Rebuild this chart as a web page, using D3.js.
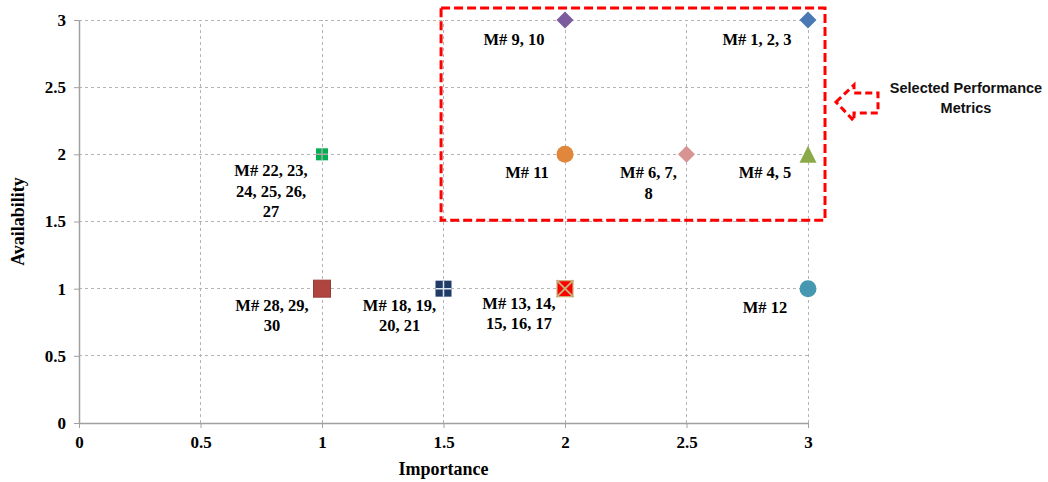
<!DOCTYPE html>
<html>
<head>
<meta charset="utf-8">
<script src="https://cdn.jsdelivr.net/npm/d3@7"></script>
<style>
  html, body { margin: 0; padding: 0; background: #fff; }
  svg { display: block; }
</style>
</head>
<body>
<svg id="chart" width="1048" height="482"></svg>
<script>
// ---- data ----
const metricGroups = ["M# 1, 2, 3", "M# 9, 10", "M# 11", "M# 6, 7, 8", "M# 4, 5",
                      "M# 22, 23, 24, 25, 26, 27", "M# 28, 29, 30", "M# 18, 19, 20, 21",
                      "M# 13, 14, 15, 16, 17", "M# 12"];
const importance   = [3, 2, 2, 2.5, 3, 1, 1, 1.5, 2, 3];
const availability = [3, 3, 2, 2, 2, 2, 1, 1, 1, 1];
const labelLines = [["M# 1, 2, 3"], ["M# 9, 10"], ["M# 11"], ["M# 6, 7,", "8"], ["M# 4, 5"],
                    ["M# 22, 23,", "24, 25, 26,", "27"], ["M# 28, 29,", "30"],
                    ["M# 18, 19,", "20, 21"], ["M# 13, 14,", "15, 16, 17"], ["M# 12"]];
const xTicks = [0, 0.5, 1, 1.5, 2, 2.5, 3];
const yTicks = [0, 0.5, 1, 1.5, 2, 2.5, 3];
const xTitle = "Importance";
const yTitle = "Availability";
const noteLines = ["Selected Performance", "Metrics"];
// selected region (data units)
const selX = [1.49, 3.07];
const selY = [1.51, 3.09];

// ---- styles / layout ----
const markerStyle = [
  {shape: "diamond", fill: "#4a78b4", size: 17},
  {shape: "diamond", fill: "#7b5c9e", size: 17},
  {shape: "circle",  fill: "#e0873c", size: 17},
  {shape: "diamond", fill: "#d79492", size: 17},
  {shape: "triangle",fill: "#8aaa4a", size: 17},
  {shape: "plussq",  fill: "#00b050", size: 12, cross: "#a8a8a8"},
  {shape: "square",  fill: "#b0443f", size: 17, stroke: "#9a3a36"},
  {shape: "plussq",  fill: "#1f3b66", size: 16, cross: "#dfe6f0"},
  {shape: "xsq",     fill: "#ff0000", size: 17, cross: "#c8b27a"},
  {shape: "circle",  fill: "#4598b0", size: 17}
];
const labelDx = [-51, -51, -38, -38, -43, -51, -50, -44, -46, -43];
const labelDy = [19, 19, 18, 18, 18, 16, 16, 16, 14, 18];
const lineH = 20.5;

const svg = d3.select("#chart");
const x = d3.scaleLinear().domain([0, 3]).range([79, 808]);
const y = d3.scaleLinear().domain([0, 3]).range([423, 20]);

// grid
const grid = svg.append("g");
grid.selectAll("line.v").data(xTicks.filter(d => d > 0)).join("line")
  .attr("x1", d => x(d)).attr("x2", d => x(d))
  .attr("y1", y(0)).attr("y2", y(3))
  .attr("stroke", "#b4b4b4").attr("stroke-width", 1).attr("stroke-dasharray", "3,3")
  .attr("shape-rendering", "crispEdges");
grid.selectAll("line.h").data(yTicks.filter(d => d > 0)).join("line")
  .attr("x1", x(0)).attr("x2", x(3))
  .attr("y1", d => y(d)).attr("y2", d => y(d))
  .attr("stroke", "#b4b4b4").attr("stroke-width", 1).attr("stroke-dasharray", "3,3")
  .attr("shape-rendering", "crispEdges");

// axes
const fontSerif = "'Liberation Serif', 'Times New Roman', serif";
const xAxis = d3.axisBottom(x).tickValues(xTicks).tickFormat(d3.format("")).tickSizeInner(5).tickSizeOuter(0).tickPadding(8);
const yAxis = d3.axisLeft(y).tickValues(yTicks).tickFormat(d3.format("")).tickSizeInner(5).tickSizeOuter(0).tickPadding(8);
const gx = svg.append("g").attr("transform", `translate(0,${y(0)})`).call(xAxis);
const gy = svg.append("g").attr("transform", `translate(${x(0)},0)`).call(yAxis);
[gx, gy].forEach(g => {
  g.select(".domain").attr("stroke", "#a0a0a0").attr("stroke-width", 1.5);
  g.selectAll(".tick line").attr("stroke", "#a0a0a0");
  g.selectAll(".tick text").attr("font-family", fontSerif).attr("font-weight", "bold")
    .attr("font-size", 17).attr("fill", "#000");
});

// axis titles
svg.append("text").attr("x", (x(0) + x(3)) / 2 + 0).attr("y", 475)
  .attr("text-anchor", "middle").attr("font-family", fontSerif).attr("font-weight", "bold")
  .attr("font-size", 18).text(xTitle);
svg.append("text").attr("transform", `translate(24,${(y(0) + y(3)) / 2}) rotate(-90)`)
  .attr("text-anchor", "middle").attr("font-family", fontSerif).attr("font-weight", "bold")
  .attr("font-size", 18).text(yTitle);

// selected box
svg.append("rect")
  .attr("x", x(selX[0])).attr("y", y(selY[1]))
  .attr("width", x(selX[1]) - x(selX[0])).attr("height", y(selY[0]) - y(selY[1]))
  .attr("fill", "none").attr("stroke", "#ff0000").attr("stroke-width", 3)
  .attr("stroke-dasharray", "9,4");

// arrow
const ax = x(selX[1]) + 11, ay = 102;
const arrowPts = [[ax, ay], [ax + 18, ay - 17], [ax + 18, ay - 9], [ax + 42, ay - 9],
                  [ax + 42, ay + 11], [ax + 18, ay + 11], [ax + 18, ay + 19]];
svg.append("path").attr("d", d3.line()(arrowPts) + "Z")
  .attr("fill", "none").attr("stroke", "#ff0000").attr("stroke-width", 3)
  .attr("stroke-dasharray", "7,4").attr("stroke-linejoin", "miter");
svg.append("text").attr("x", 966).attr("y", 93).attr("text-anchor", "middle")
  .attr("font-family", "'Liberation Sans', Arial, sans-serif").attr("font-weight", "bold")
  .attr("font-size", 14.5).attr("fill", "#111")
  .selectAll("tspan").data(noteLines).join("tspan")
  .attr("x", 966).attr("dy", (d, i) => i === 0 ? 0 : 20).text(d => d);

// markers
const idx = d3.range(metricGroups.length);
const mk = svg.append("g").selectAll("g").data(idx).join("g")
  .attr("transform", i => `translate(${x(importance[i])},${y(availability[i])})`);
mk.each(function(i) {
  const g = d3.select(this);
  const s = markerStyle[i], h = s.size / 2;
  if (s.shape === "diamond") {
    g.append("path").attr("d", `M0,${-h}L${h},0L0,${h}L${-h},0Z`).attr("fill", s.fill);
  } else if (s.shape === "circle") {
    g.append("circle").attr("r", h).attr("fill", s.fill);
  } else if (s.shape === "triangle") {
    g.append("path").attr("d", `M0,${-h}L${h},${h}L${-h},${h}Z`).attr("fill", s.fill);
  } else if (s.shape === "square") {
    g.append("rect").attr("x", -h).attr("y", -h).attr("width", s.size).attr("height", s.size)
      .attr("fill", s.fill).attr("stroke", s.stroke).attr("stroke-width", 1);
  } else if (s.shape === "plussq") {
    g.append("rect").attr("x", -h).attr("y", -h).attr("width", s.size).attr("height", s.size).attr("fill", s.fill);
    g.append("path").attr("d", `M${-h},0H${h}M0,${-h}V${h}`).attr("stroke", s.cross).attr("stroke-width", 1.5);
  } else if (s.shape === "xsq") {
    g.append("rect").attr("x", -h + 0.5).attr("y", -h + 0.5).attr("width", s.size - 1).attr("height", s.size - 1)
      .attr("fill", s.fill).attr("stroke", s.cross).attr("stroke-width", 1.2);
    g.append("path").attr("d", `M${-h},${-h}L${h},${h}M${h},${-h}L${-h},${h}`).attr("stroke", s.cross).attr("stroke-width", 2);
  }
});

// labels
svg.append("g").selectAll("text").data(idx).join("text")
  .attr("text-anchor", "middle").attr("font-family", fontSerif).attr("font-weight", "bold")
  .attr("font-size", 16.5).attr("fill", "#000")
  .attr("transform", i => `translate(${x(importance[i]) + labelDx[i]},${y(availability[i]) + labelDy[i] + 6})`)
  .each(function(i) {
    d3.select(this).selectAll("tspan").data(labelLines[i]).join("tspan")
      .attr("x", 0).attr("y", (d, k) => k * lineH).text(d => d);
  });
</script>
</body>
</html>
